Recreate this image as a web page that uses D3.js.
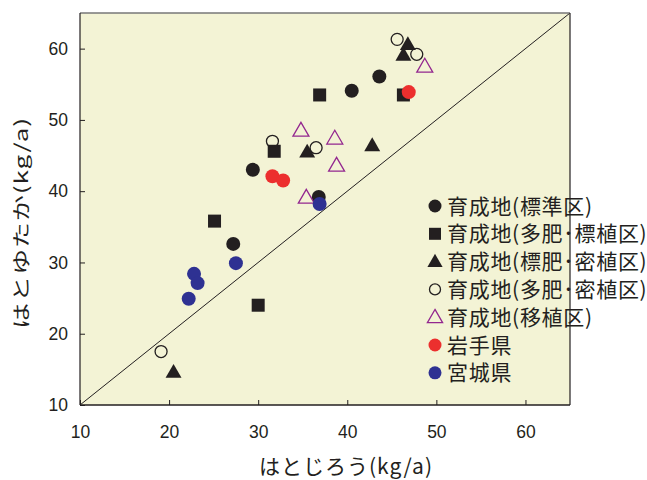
<!DOCTYPE html>
<html><head><meta charset="utf-8">
<script src="https://cdn.jsdelivr.net/npm/d3@7"></script>
<style>body{margin:0;background:#fff}</style>
</head><body><svg id="c" width="647" height="480"></svg>
<script>
const xTicks = [10,20,30,40,50,60];
const yTicks = [10,20,30,40,50,60];
const seriesNames = ["育成地(標準区)","育成地(多肥･標植区)","育成地(標肥･密植区)","育成地(多肥･密植区)","育成地(移植区)","岩手県","宮城県"];
const std = [[29.4,43.0],[40.5,54.1],[43.6,56.1],[27.2,32.6],[36.8,39.2]];
const tahiHyo = [[36.9,53.5],[46.3,53.5],[31.8,45.6],[25.1,35.8],[30.0,24.0]];
const hyoMitsu = [[46.8,60.6],[46.3,59.1],[35.5,45.5],[42.8,46.4],[20.5,14.6]];
const tahiMitsu = [[45.6,61.3],[47.8,59.2],[31.6,47.0],[36.5,46.1],[19.1,17.5]];
const ishoku = [[48.7,57.5],[34.8,48.5],[38.6,47.4],[38.8,43.6],[35.4,39.1]];
const iwate = [[46.9,53.9],[31.6,42.1],[32.8,41.5]];
const miyagi = [[36.9,38.2],[27.5,29.9],[22.8,28.4],[23.2,27.1],[22.2,24.9]];

const svg = d3.select("#c");
const L=80,R=570,T=13,B=405;
const x = d3.scaleLinear().domain([10,65]).range([L,R]);
const y = d3.scaleLinear().domain([10,65]).range([B,T]);

svg.append("rect").attr("x",L).attr("y",T).attr("width",R-L).attr("height",B-T).attr("fill","#f3f3d5");
svg.append("line").attr("x1",x(10)).attr("y1",y(10)).attr("x2",x(65)).attr("y2",y(65)).attr("stroke","#231f20").attr("stroke-width",1);

const xa = svg.append("g").attr("transform",`translate(0,${B})`).call(d3.axisBottom(x).tickValues(xTicks).tickSize(-5).tickPadding(14).tickFormat(d3.format("d")));
const ya = svg.append("g").attr("transform",`translate(${L},0)`).call(d3.axisLeft(y).tickValues(yTicks).tickSize(-5).tickPadding(12).tickFormat(d3.format("d")));
[xa,ya].forEach(a=>{a.select(".domain").remove();a.selectAll("line").attr("stroke","#231f20");a.selectAll("text").attr("font-family","Liberation Sans, Arial, sans-serif").attr("font-size",17.5).attr("fill","#231f20");});
xa.selectAll("text").attr("dy","1.1em");
svg.append("line").attr("x1",L).attr("x2",R).attr("y1",T).attr("y2",T).attr("stroke","#777").attr("stroke-width",1.5);
svg.append("line").attr("x1",R).attr("x2",R).attr("y1",T).attr("y2",B).attr("stroke","#231f20").attr("stroke-width",1.2);
svg.append("line").attr("x1",L).attr("x2",L).attr("y1",T).attr("y2",B).attr("stroke","#231f20").attr("stroke-width",1.2);
svg.append("line").attr("x1",L).attr("x2",R).attr("y1",B).attr("y2",B).attr("stroke","#231f20").attr("stroke-width",1.5);

const jp = "Noto Sans CJK JP, sans-serif";
svg.append("text").attr("x",346).attr("y",474).attr("text-anchor","middle").attr("font-family",jp).attr("font-size",21).attr("letter-spacing",1).attr("fill","#231f20").text("はとじろう(kg/a)");
svg.append("text").attr("transform","translate(28,223) rotate(-90) scale(1.45,1)").attr("text-anchor","middle").attr("font-family",jp).attr("font-size",18).attr("letter-spacing",0.6).attr("fill","#231f20").text("はとゆたか(kg/a)");

const black="#231f20", purple="#93278f", red="#ec2f2e", blue="#2e3192";
const tri = d3.symbol().type(d3.symbolTriangle);
function draw(data, kind, g, col){
  const sel = g.selectAll(null).data(data).enter();
  if(kind==="circle") sel.append("circle").attr("cx",d=>x(d[0])).attr("cy",d=>y(d[1])).attr("r",7).attr("fill",col||black);
  if(kind==="ocircle") sel.append("circle").attr("cx",d=>x(d[0])).attr("cy",d=>y(d[1])).attr("r",6).attr("fill","none").attr("stroke",black).attr("stroke-width",1.3);
  if(kind==="square") sel.append("rect").attr("x",d=>x(d[0])-6.5).attr("y",d=>y(d[1])-6.5).attr("width",13).attr("height",13).attr("fill",black);
  if(kind==="tri") sel.append("path").attr("d",tri.size(110)()).attr("transform",d=>`translate(${x(d[0])},${y(d[1])+1})`).attr("fill",black);
  if(kind==="otri") sel.append("path").attr("d",tri.size(110)()).attr("transform",d=>`translate(${x(d[0])},${y(d[1])+1})`).attr("fill","none").attr("stroke",purple).attr("stroke-width",1.3);
}
const g = svg.append("g");
draw(std,"circle",g);
draw(tahiHyo,"square",g);
draw(hyoMitsu,"tri",g);
draw(tahiMitsu,"ocircle",g);
draw(ishoku,"otri",g);
draw(iwate,"circle",g,red);
draw(miyagi,"circle",g,blue);

// legend
const lg = svg.append("g");
const kinds=["circle","square","tri","ocircle","otri","circle","circle"];
const cols=[black,black,black,black,purple,red,blue];
seriesNames.forEach((n,i)=>{
  const cy=206+i*27.8, cx=435;
  const k=kinds[i];
  if(k==="circle") lg.append("circle").attr("cx",cx).attr("cy",cy).attr("r",6.5).attr("fill",cols[i]);
  if(k==="square") lg.append("rect").attr("x",cx-6).attr("y",cy-6).attr("width",12).attr("height",12).attr("fill",black);
  if(k==="tri") lg.append("path").attr("d",tri.size(100)()).attr("transform",`translate(${cx},${cy+1})`).attr("fill",black);
  if(k==="ocircle") lg.append("circle").attr("cx",cx).attr("cy",cy).attr("r",5.5).attr("fill","none").attr("stroke",black).attr("stroke-width",1.3);
  if(k==="otri") lg.append("path").attr("d",tri.size(100)()).attr("transform",`translate(${cx},${cy+1})`).attr("fill","none").attr("stroke",purple).attr("stroke-width",1.3);
  lg.append("text").attr("x",447).attr("y",cy).attr("dy","0.36em").attr("font-family",jp).attr("font-size",21).attr("letter-spacing",0.7).attr("fill","#231f20").text(n);
});
</script></body></html>
